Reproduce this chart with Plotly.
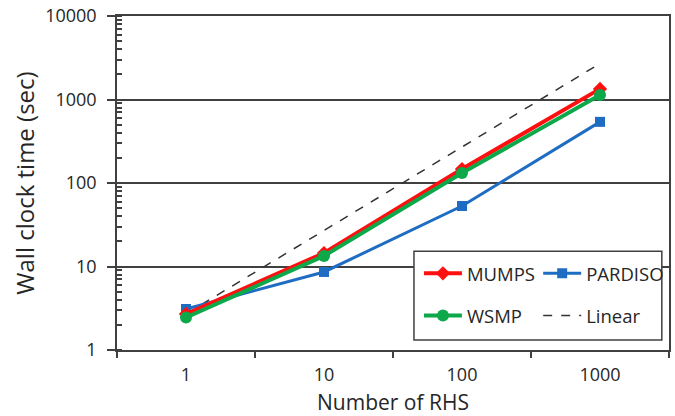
import plotly.graph_objects as go

categories = ["1", "10", "100", "1000"]
mumps = [2.7, 14.5, 147, 1340]
pardiso = [3.1, 8.6, 53, 540]
wsmp = [2.45, 13.4, 132, 1130]
linear = [2.7, 27, 270, 2700]

FONT = "Open Sans"
TXT = "#262626"
AX = "#404040"

fig = go.Figure()
fig.add_trace(go.Scatter(x=categories, y=linear, name="Linear", mode="lines",
                         line=dict(color="#333333", width=1.5, dash="dash"),
                         legend="legend2", legendgroup="lin", legendrank=2))
fig.add_trace(go.Scatter(x=categories, y=pardiso, name="PARDISO", mode="lines+markers",
                         line=dict(color="#1F6DC2", width=3),
                         marker=dict(symbol="square", size=10, color="#1F6DC2"),
                         legend="legend2", legendgroup="par", legendrank=1))
fig.add_trace(go.Scatter(x=categories, y=mumps, name="MUMPS", mode="lines+markers",
                         line=dict(color="#FF1010", width=4),
                         marker=dict(symbol="diamond", size=11, color="#FF1010"),
                         legend="legend", legendgroup="mu", legendrank=1))
fig.add_trace(go.Scatter(x=categories, y=wsmp, name="WSMP", mode="lines+markers",
                         line=dict(color="#0DA84A", width=4),
                         marker=dict(symbol="circle", size=12, color="#0DA84A"),
                         legend="legend", legendgroup="ws", legendrank=2))

leg_common = dict(bgcolor="rgba(0,0,0,0)", borderwidth=0, font=dict(family=FONT, size=18.5, color=TXT),
                  itemwidth=38, tracegroupgap=15, yanchor="top", xanchor="left",
                  traceorder="grouped")
fig.update_layout(
    width=675, height=416,
    margin=dict(l=117, r=6, t=16, b=66),
    paper_bgcolor="white", plot_bgcolor="white",
    font=dict(family=FONT, color=TXT),
    legend=dict(x=0.547, y=0.285, **leg_common),
    legend2=dict(x=0.763, y=0.285, **leg_common),
    shapes=[dict(type="rect", xref="paper", yref="paper", x0=0.538, x1=0.987, y0=0.03, y1=0.296,
                 line=dict(color=AX, width=1.5), fillcolor="white", layer="above")],
)
fig.update_xaxes(
    type="category", range=[-0.5, 3.5], tickson="boundaries", automargin=False,
    ticks="outside", ticklen=6, tickcolor=AX, tickwidth=1.5,
    showline=True, linecolor=AX, linewidth=1.5, mirror=True, showgrid=False,
    ticklabelstandoff=8,
    tickfont=dict(family=FONT, size=18, color=TXT),
    title=dict(text="Number of RHS", font=dict(family=FONT, size=21, color=TXT), standoff=17),
)
fig.update_yaxes(
    type="log", range=[0, 4], dtick=1, tickformat="d", automargin=False,
    ticks="outside", ticklen=8, tickcolor=AX, tickwidth=1.5,
    showline=True, linecolor=AX, linewidth=1.5, mirror=True,
    showgrid=True, gridcolor=AX, gridwidth=1.5,
    minor=dict(dtick="D1", ticks="inside", ticklen=5, tickcolor=AX, showgrid=False),
    ticklabelstandoff=7,
    tickfont=dict(family=FONT, size=18, color=TXT),
    title=dict(text="Wall clock time (sec)", font=dict(family=FONT, size=24, color=TXT), standoff=4),
)

fig.write_html("out.html")
